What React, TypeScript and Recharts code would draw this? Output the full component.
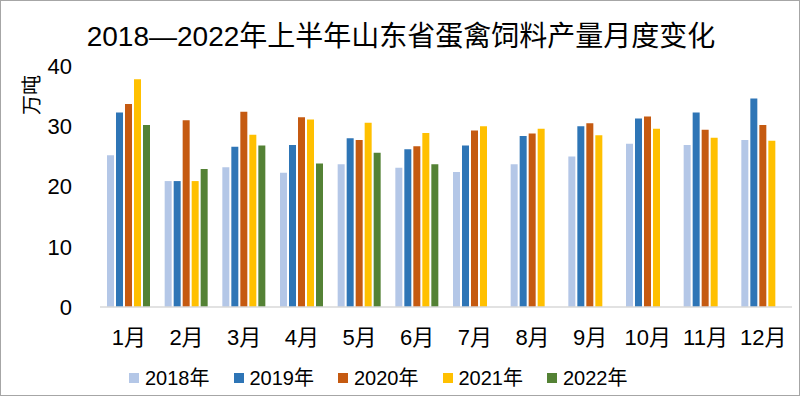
import React from 'react';
import { BarChart, Bar, XAxis, YAxis } from 'recharts';

const months = ['1月', '2月', '3月', '4月', '5月', '6月', '7月', '8月', '9月', '10月', '11月', '12月'];
const y2018 = [25.2, 20.9, 23.2, 22.3, 23.7, 23.1, 22.4, 23.7, 25.0, 27.1, 26.9, 27.7];
const y2019 = [32.3, 20.9, 26.6, 26.9, 28.0, 26.2, 26.8, 28.4, 30.0, 31.3, 32.3, 34.6];
const y2020 = [33.7, 31.0, 32.4, 31.5, 27.7, 26.7, 29.3, 28.8, 30.5, 31.6, 29.4, 30.2];
const y2021 = [37.8, 20.9, 28.6, 31.1, 30.6, 28.9, 30.0, 29.6, 28.5, 29.6, 28.1, 27.6];
const y2022 = [30.2, 22.9, 26.8, 23.8, 25.6, 23.7, null, null, null, null, null, null];
const yTicks = [0, 10, 20, 30, 40];

const series = [
  { key: 'y2018', name: '2018年', color: '#b4c7e7' },
  { key: 'y2019', name: '2019年', color: '#2e75b6' },
  { key: 'y2020', name: '2020年', color: '#c55a11' },
  { key: 'y2021', name: '2021年', color: '#ffc000' },
  { key: 'y2022', name: '2022年', color: '#548235' },
];

const data = months.map((m, i) => ({
  month: m,
  y2018: y2018[i],
  y2019: y2019[i],
  y2020: y2020[i],
  y2021: y2021[i],
  y2022: y2022[i],
}));

const font = '"Liberation Sans", Arial, "Noto Sans CJK SC", sans-serif';

export default function App() {
  return (
    <div
      style={{
        position: 'absolute',
        left: 0,
        top: 0,
        width: 800,
        height: 396,
        background: '#fff',
        fontFamily: font,
        boxSizing: 'border-box',
        border: '1px solid #a6a6a6',
      }}
    >
      <div
        style={{
          position: 'absolute',
          top: 19,
          left: 0,
          width: 800,
          textAlign: 'center',
          fontSize: 28,
          color: '#000',
          lineHeight: '34px',
        }}
      >
        2018—2022年上半年山东省蛋禽饲料产量月度变化
      </div>
      <div
        style={{
          position: 'absolute',
          left: 29,
          top: 94,
          transform: 'translate(-50%, -50%) rotate(-90deg)',
          fontSize: 20,
          whiteSpace: 'nowrap',
          color: '#000',
        }}
      >
        万吨
      </div>
      <div style={{ position: 'absolute', left: -1, top: -1 }}>
        <BarChart
          width={800}
          height={396}
          data={data}
          margin={{ top: 66, right: 8, bottom: 59, left: 0 }}
          barSize={7}
          barGap={2}
        >
          <XAxis
            dataKey="month"
            height={30}
            axisLine={{ stroke: '#d9d9d9', strokeWidth: 1.5 }}
            tickLine={false}
            tickSize={0}
            tickMargin={22}
            tick={{ fontSize: 22, fill: '#000', fontFamily: font }}
            interval={0}
          />
          <YAxis
            width={100}
            domain={[0, 40]}
            ticks={yTicks}
            axisLine={false}
            tickLine={false}
            tickSize={0}
            tickMargin={28}
            tick={{ fontSize: 22, fill: '#000', fontFamily: font }}
          />
          {series.map((s) => (
            <Bar key={s.key} dataKey={s.key} name={s.name} fill={s.color} isAnimationActive={false} />
          ))}
        </BarChart>
      </div>
      <div
        style={{
          position: 'absolute',
          top: 364,
          left: 128,
          display: 'flex',
          gap: 24,
          fontSize: 20,
          color: '#000',
          lineHeight: '26px',
        }}
      >
        {series.map((s) => (
          <div key={s.key} style={{ display: 'flex', alignItems: 'center' }}>
            <span style={{ width: 10, height: 10, background: s.color, marginRight: 6, display: 'inline-block' }} />
            <span>{s.name}</span>
          </div>
        ))}
      </div>
    </div>
  );
}
